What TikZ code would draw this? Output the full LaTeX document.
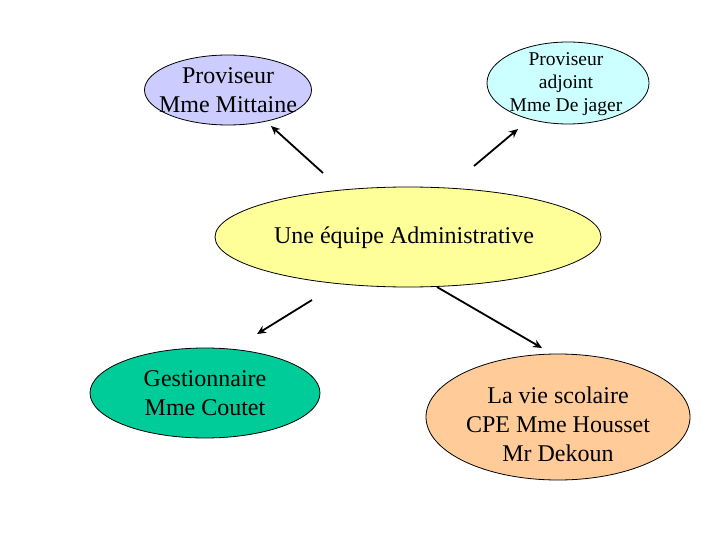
\documentclass[tikz,border=0pt]{standalone}
\usepackage{fontspec}
\setmainfont{Liberation Serif}
\usetikzlibrary{shapes.geometric,arrows.meta}
\definecolor{lav}{RGB}{204,204,255}
\definecolor{lcyan}{RGB}{204,255,255}
\definecolor{lyel}{RGB}{255,255,153}
\definecolor{sea}{RGB}{0,204,153}
\definecolor{peach}{RGB}{255,204,153}
\tikzset{
  ell/.style={ellipse, draw=black, line width=0.8pt, inner sep=0pt},
  txt/.style={align=center, inner sep=0pt, font=\fontsize{24}{29}\selectfont},
  smalltxt/.style={align=center, inner sep=0pt, font=\fontsize{19.5}{23}\selectfont},
  arr/.style={line width=1.8pt, -{Stealth[length=9pt,width=8pt]}}
}
\begin{document}
\begin{tikzpicture}[x=1pt,y=-1pt]
\path[use as bounding box] (0,0) rectangle (720,540);
% ellipses
\node[ell, fill=lav, minimum width=167pt, minimum height=70pt] (mit) at (228,90) {};
\node[txt] (mitT) at (228,90) {Proviseur\\Mme Mittaine};
\node[ell, fill=lcyan, minimum width=162pt, minimum height=82pt] (adj) at (568,83) {};
\node[smalltxt] (adjT) at (566,84) {Proviseur\\adjoint\\Mme De jager};
\node[ell, fill=lyel, minimum width=386pt, minimum height=100pt] (cen) at (408,237) {};
\node[txt] (cenT) at (404,238) {Une équipe Administrative};
\node[ell, fill=sea, minimum width=230pt, minimum height=90pt] (ges) at (205,393) {};
\node[txt] (gesT) at (205,393) {Gestionnaire\\Mme Coutet};
\node[ell, fill=peach, minimum width=264pt, minimum height=126pt] (vie) at (558,417) {};
\node[txt] (vieT) at (558,424) {La vie scolaire\\CPE Mme Housset\\Mr Dekoun};
% arrow end points
\coordinate (a1s) at (323,173); \coordinate (a1e) at (271,126);
\coordinate (a2s) at (474,166); \coordinate (a2e) at (518,129);
\coordinate (a3s) at (312,300); \coordinate (a3e) at (257,334);
\coordinate (a4s) at (437,287); \coordinate (a4e) at (542,348);
\draw[arr] (a1s) -- (a1e);
\draw[arr] (a2s) -- (a2e);
\draw[arr] (a3s) -- (a3e);
\draw[arr] (a4s) -- (a4e);
\end{tikzpicture}
\end{document}
